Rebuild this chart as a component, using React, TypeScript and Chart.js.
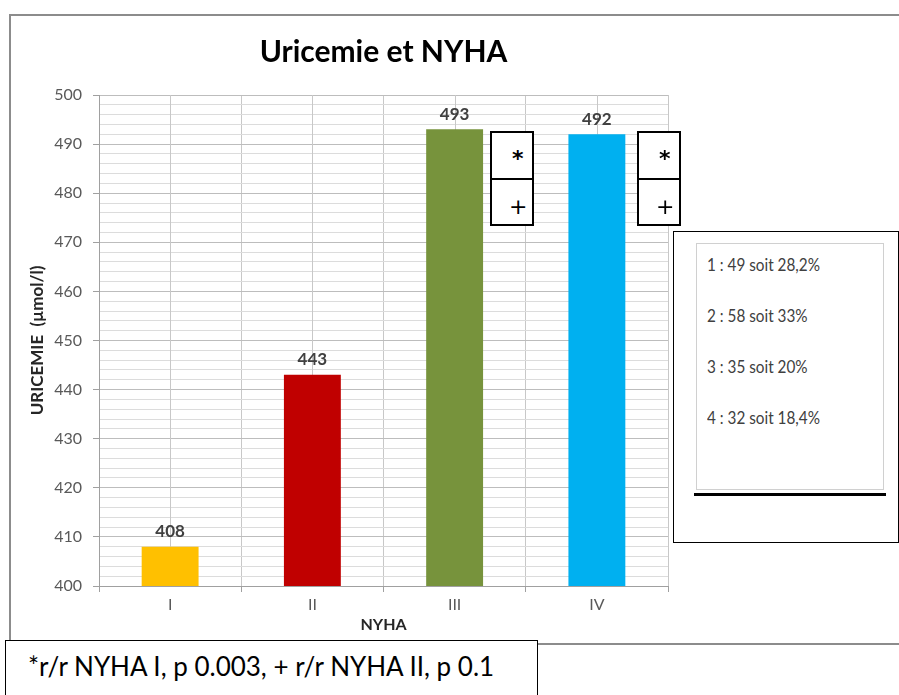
import React, { useEffect, useRef } from 'react';
import { Chart, registerables } from 'chart.js';

Chart.register(...registerables);

// ---- data ----
const categories = ['I', 'II', 'III', 'IV'];
const uricemie = [408, 443, 493, 492];
const barColors = ['#FFC000', '#C00000', '#77933C', '#00B0F0'];
const yMin = 400;
const yMax = 500;
const yMajorStep = 10;
const yMinorStep = 2;
const chartTitle = 'Uricemie et NYHA';
const yTitle = 'URICEMIE  (µmol/l)';
const xTitle = 'NYHA';
const legendLines = ['1 : 49 soit 28,2%', '2 : 58 soit 33%', '3 : 35 soit 20%', '4 : 32 soit 18,4%'];
const footnote = '*r/r NYHA I, p 0.003, + r/r NYHA II, p 0.1';
const sigMarks = ['*', '+'];

const FONT = "Lato, 'Open Sans', sans-serif";
const MARK_FONT = "'DejaVu Sans', sans-serif";

const midLinesPlugin = {
  id: 'midLines',
  beforeDatasetsDraw(chart: any) {
    const { ctx, chartArea, scales } = chart;
    const xs = scales.x;
    ctx.save();
    ctx.strokeStyle = '#C8C8C8';
    ctx.lineWidth = 1;
    categories.forEach((_, i) => {
      const x = Math.round(xs.getPixelForValue(i)) + 0.5;
      ctx.beginPath();
      ctx.moveTo(x, chartArea.top);
      ctx.lineTo(x, chartArea.bottom);
      ctx.stroke();
    });
    ctx.restore();
  },
};

const valueLabelsPlugin = {
  id: 'valueLabels',
  afterDatasetsDraw(chart: any) {
    const { ctx } = chart;
    const meta = chart.getDatasetMeta(0);
    ctx.save();
    ctx.font = `bold 17px ${FONT}`;
    ctx.fillStyle = '#404040';
    ctx.textAlign = 'center';
    ctx.textBaseline = 'middle';
    meta.data.forEach((bar: any, i: number) => {
      ctx.fillText(String(uricemie[i]), bar.x, bar.y - 15);
    });
    ctx.restore();
  },
};

export default function App() {
  const canvasRef = useRef<HTMLCanvasElement>(null);

  useEffect(() => {
    if (!canvasRef.current) return;
    const chart = new Chart(canvasRef.current, {
      type: 'bar',
      data: {
        labels: categories,
        datasets: [
          {
            data: uricemie,
            backgroundColor: barColors,
            borderWidth: 0,
            barPercentage: 0.4,
            categoryPercentage: 1,
          },
        ],
      },
      options: {
        responsive: false,
        animation: false,
        devicePixelRatio: 1,
        layout: { padding: { left: 10, top: 15, right: 231, bottom: 59 } },
        plugins: {
          legend: { display: false },
          tooltip: { enabled: false },
          title: {
            display: true,
            text: chartTitle,
            fullSize: false,
            color: '#000',
            font: { family: FONT, size: 30, weight: 'bold', lineHeight: 1.2 },
            padding: { top: 19, bottom: 25 },
          },
        },
        scales: {
          x: {
            grid: {
              color: '#C8C8C8',
              tickColor: '#A0A0A0',
              tickLength: 6,
              offset: true,
            },
            border: { color: '#A0A0A0' },
            ticks: {
              color: '#595959',
              font: { family: FONT, size: 16 },
              padding: 3,
            },
            title: {
              display: true,
              text: xTitle,
              color: '#262626',
              font: { family: FONT, size: 16, weight: 'bold', lineHeight: 1.2 },
              padding: { top: 0, bottom: 2 },
            },
            afterFit(scale: any) {
              scale.height = 50;
            },
          },
          y: {
            min: yMin,
            max: yMax,
            grid: {
              color: (c: any) => (c.tick && c.tick.value % yMajorStep === 0 ? '#BDBDBD' : '#DCDCDC'),
              tickColor: (c: any) => (c.tick && c.tick.value % yMajorStep === 0 ? '#A0A0A0' : 'rgba(0,0,0,0)'),
              tickLength: 6,
            },
            border: { color: '#A0A0A0' },
            ticks: {
              stepSize: yMinorStep,
              autoSkip: false,
              color: '#595959',
              font: { family: FONT, size: 16 },
              padding: 11,
              callback: (v: any) => (Number(v) % yMajorStep === 0 ? String(v) : ''),
            },
            title: {
              display: true,
              text: yTitle,
              color: '#262626',
              font: { family: FONT, size: 17, weight: 'bold', lineHeight: 1.2 },
              padding: { top: 17, bottom: 0 },
            },
            afterFit(scale: any) {
              scale.width = 89;
            },
          },
        },
      },
      plugins: [midLinesPlugin, valueLabelsPlugin],
    });
    return () => chart.destroy();
  }, []);

  const markTops = [15, 63];
  const markLefts = [20, 17];
  const markWeights = ['bold', 'normal'];
  const sigBox = (left: number) => (
    <div
      style={{
        position: 'absolute',
        left,
        top: 131,
        width: 44,
        height: 95,
        border: '2px solid #000',
        boxSizing: 'border-box',
        background: '#fff',
      }}
    >
      <div
        style={{
          position: 'absolute',
          left: 0,
          top: 45,
          width: 40,
          height: 2,
          background: '#000',
        }}
      />
      {sigMarks.map((m, i) => (
        <span
          key={i}
          style={{
            position: 'absolute',
            left: markLefts[i],
            top: markTops[i],
            fontFamily: MARK_FONT,
            fontSize: 22,
            fontWeight: markWeights[i] as any,
            lineHeight: '22px',
            color: '#000',
          }}
        >
          {m}
        </span>
      ))}
    </div>
  );

  return (
    <div
      style={{
        position: 'absolute',
        left: 0,
        top: 0,
        width: 899,
        height: 695,
        overflow: 'hidden',
        background: '#fff',
      }}
    >
      <div
        style={{
          position: 'absolute',
          left: 9,
          top: 14,
          width: 1000,
          height: 631,
          border: '2px solid #8C8C8C',
          boxSizing: 'border-box',
        }}
      />
      <canvas
        ref={canvasRef}
        width={899}
        height={695}
        style={{ position: 'absolute', left: 0, top: 0, width: 899, height: 695 }}
      />
      {sigBox(490)}
      {sigBox(637)}
      <div
        style={{
          position: 'absolute',
          left: 673,
          top: 231,
          width: 226,
          height: 312,
          border: '1.5px solid #000',
          boxSizing: 'border-box',
          background: '#fff',
        }}
      >
        <div
          style={{
            position: 'absolute',
            left: 22,
            top: 11,
            width: 188,
            height: 247,
            border: '1px solid #D0D0D0',
            boxSizing: 'border-box',
          }}
        >
          {legendLines.map((t, i) => (
            <div
              key={i}
              style={{
                position: 'absolute',
                left: 10,
                top: 10 + i * 51,
                fontFamily: FONT,
                fontSize: 17,
                color: '#404040',
                whiteSpace: 'nowrap',
                transform: 'scaleX(0.9)',
                transformOrigin: 'left center',
              }}
            >
              {t}
            </div>
          ))}
        </div>
        <div
          style={{
            position: 'absolute',
            left: 20,
            top: 261,
            width: 192,
            height: 3,
            background: '#000',
          }}
        />
      </div>
      <div
        style={{
          position: 'absolute',
          left: 5,
          top: 640,
          width: 533,
          height: 80,
          border: '1.5px solid #000',
          boxSizing: 'border-box',
          background: '#fff',
          fontFamily: FONT,
          fontSize: 26,
          color: '#000',
          paddingLeft: 22,
          paddingTop: 9,
          whiteSpace: 'nowrap',
        }}
      >
        {footnote}
      </div>
    </div>
  );
}
